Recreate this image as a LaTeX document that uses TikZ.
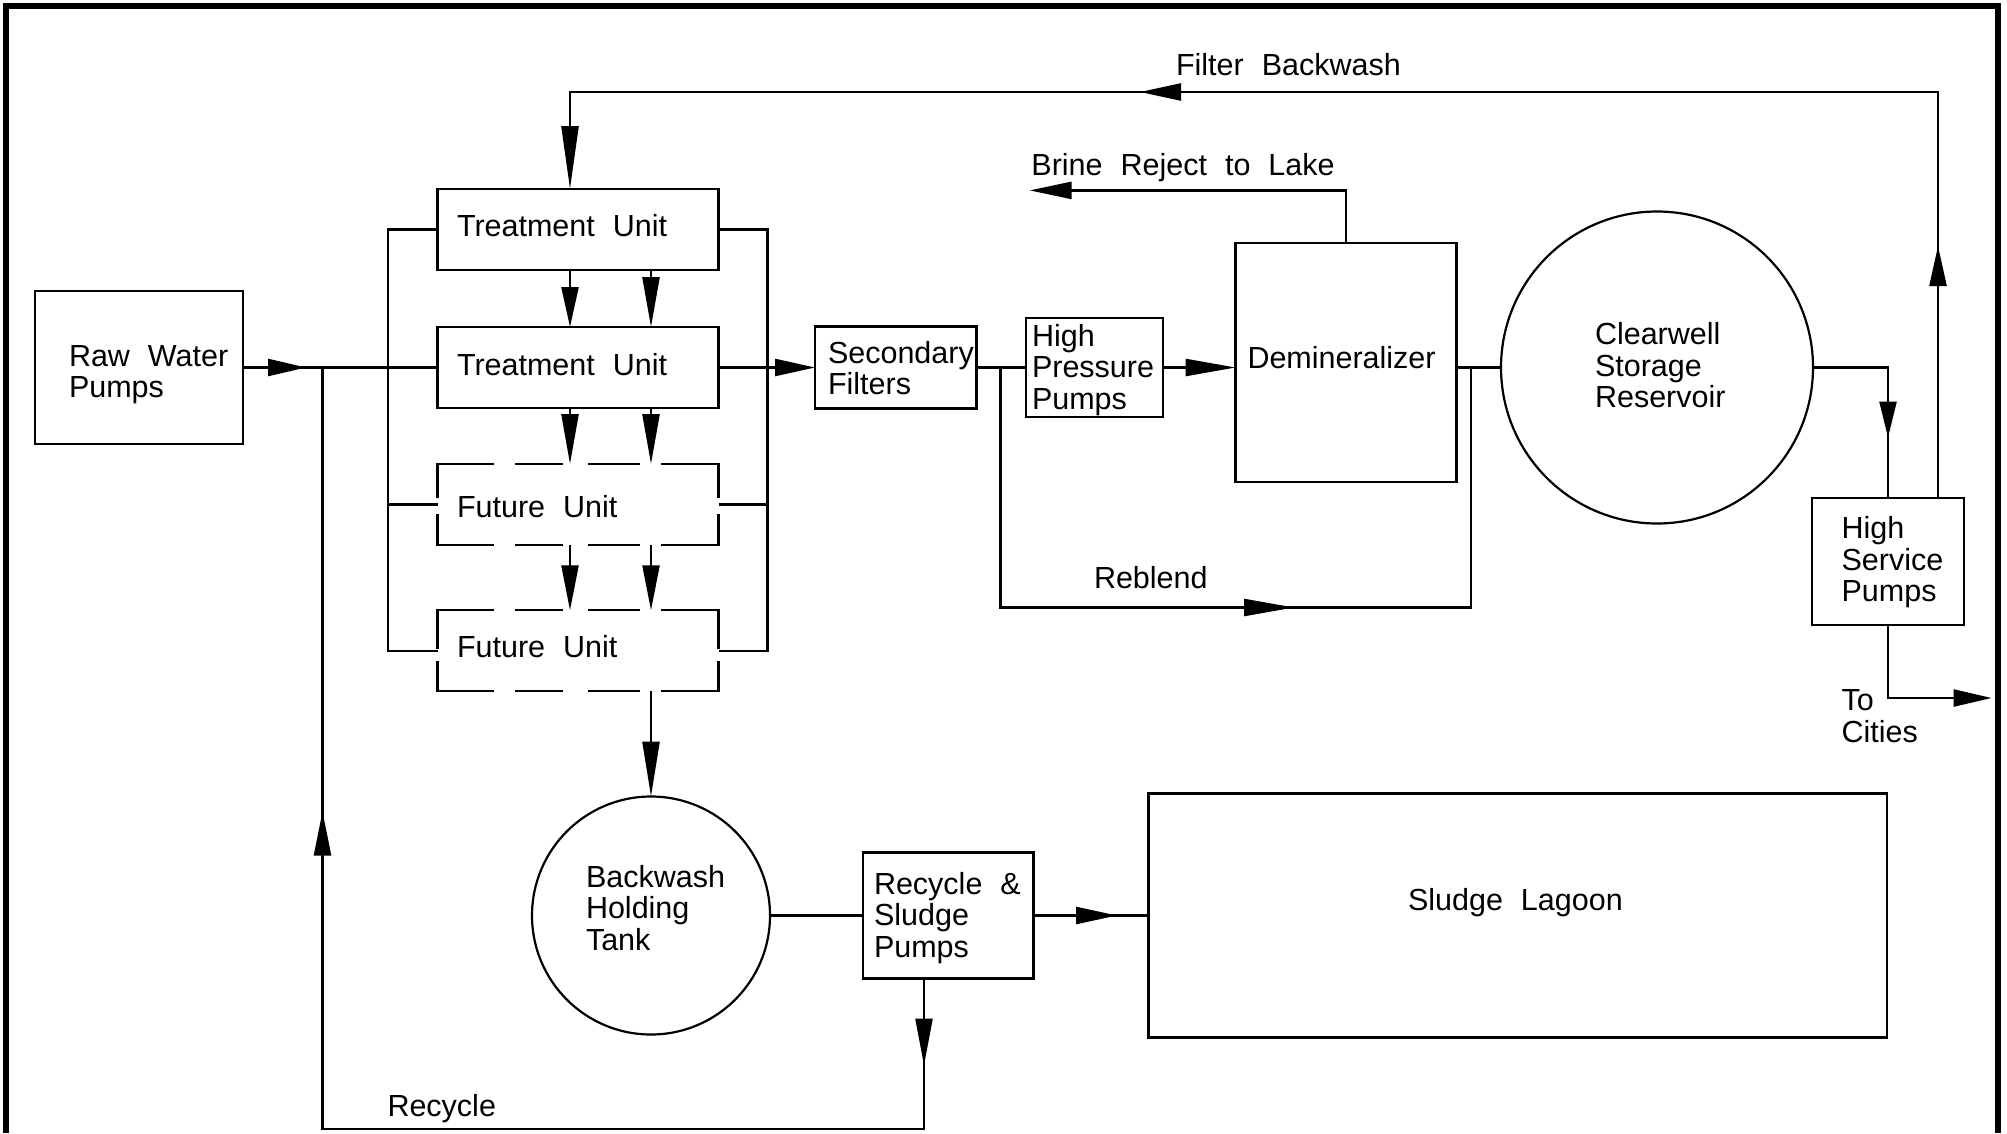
\documentclass[tikz,border=0pt]{standalone}
\usepackage{fontspec}
\setmainfont{Liberation Sans}
\usetikzlibrary{arrows.meta,decorations.markings}
\newcommand{\lblfont}{\fontsize{30.5}{31.5}\selectfont\spaceskip=18pt plus 3pt minus 3pt\relax}
\newcommand{\mlines}[1]{\parbox[t]{300pt}{#1}}
\tikzset{
  every node/.style={inner sep=0pt, outer sep=0pt},
  ln/.style={line width=2.4pt, line join=miter},
  box/.style={draw, rectangle, line width=2.4pt},
  tank/.style={draw, circle, line width=2.2pt},
  fubox/.style={rectangle, minimum width=281pt, minimum height=81pt},
  unitbox/.style={box, minimum width=281pt, minimum height=81pt},
  lbl/.style={anchor=base west, font=\lblfont},
  endarr/.style={-{Triangle[length=#1,width=17pt]}},
  midarr/.style 2 args={postaction={decorate,decoration={markings,mark=at position #1 with {\arrow{Triangle[length=#2,width=17pt]}}}}},
  dashedge/.style={line width=2.4pt, line cap=rect},
  hdash/.style={dashedge, dash pattern=on 55.5pt off 23pt on 46pt off 27pt on 50pt off 23pt on 70pt off 10pt},
}
\begin{document}
\begin{tikzpicture}[x=1pt,y=-1pt]
\useasboundingbox (0,0) rectangle (2007,1133);
\fill[white] (0,0) rectangle (2007,1133);
% frame
\draw[line width=6pt, line join=miter] (5.5,1133) -- (5.5,6) -- (1997.5,6) -- (1997.5,1133);

% boxes
\node[box, minimum width=208pt, minimum height=153pt] (RWP) at (139,367.5) {};
\node[unitbox] (TU1) at (578,229.5) {};
\node[unitbox] (TU2) at (578,367.5) {};
\node[fubox] (FU1) at (578,504.5) {};
\node[fubox] (FU2) at (578,650.75) {};
\node[box, minimum width=161.4pt, minimum height=82.3pt] (SF) at (895.7,367.5) {};
\node[box, minimum width=137pt, minimum height=99pt] (HPP) at (1094.5,367.5) {};
\node[box, minimum width=220.7pt, minimum height=239pt] (DEM) at (1346,362.5) {};
\node[tank, minimum size=312pt] (CW) at (1657,367.5) {};
\node[box, minimum width=152pt, minimum height=127pt] (HSP) at (1888,561.5) {};
\node[tank, minimum size=238pt] (BHT) at (651,915.5) {};
\node[box, minimum width=170.6pt, minimum height=126pt] (RSP) at (948.3,915.5) {};
\node[box, minimum width=738.4pt, minimum height=244pt] (SL) at (1517.8,915.5) {};

% dashed future units
\draw[hdash] (FU1.north west) -- (FU1.north east);
\draw[hdash] (FU1.south west) -- (FU1.south east);
\draw[dashedge, dash pattern=on 33pt off 18pt on 40pt off 10pt] (FU1.north west) -- (FU1.south west);
\draw[dashedge, dash pattern=on 33pt off 18pt on 40pt off 10pt] (FU1.north east) -- (FU1.south east);
\draw[hdash] (FU2.north west) -- (FU2.north east);
\draw[hdash] (FU2.south west) -- (FU2.south east);
\draw[dashedge, dash pattern=on 38pt off 14pt on 40pt off 10pt] (FU2.north west) -- (FU2.south west);
\draw[dashedge, dash pattern=on 38pt off 14pt on 40pt off 10pt] (FU2.north east) -- (FU2.south east);

% labels
\node[lbl] (tRWP) at (69,366) {\mlines{Raw Water\\Pumps}};
\node[lbl] (tTU1) at (457,236) {Treatment Unit};
\node[lbl] (tTU2) at (457,375.7) {Treatment Unit};
\node[lbl] (tFU1) at (457,517) {Future Unit};
\node[lbl] (tFU2) at (457,657.6) {Future Unit};
\node[lbl] (tSF) at (828,363) {\mlines{Secondary\\Filters}};
\node[lbl] (tHPP) at (1032,346.4) {\mlines{High\\Pressure\\Pumps}};
\node[lbl] (tDEM) at (1247.5,368) {Demineralizer};
\node[lbl] (tCW) at (1595,344.6) {\mlines{Clearwell\\Storage\\Reservoir}};
\node[lbl] (tHSP) at (1841.6,538.6) {\mlines{High\\Service\\Pumps}};
\node[lbl] (tCities) at (1841.6,710.5) {\mlines{To\\Cities}};
\node[lbl] (tFB) at (1176,75) {Filter Backwash};
\node[lbl] (tBrine) at (1031.4,175) {Brine Reject to Lake};
\node[lbl] (tReblend) at (1094,588) {Reblend};
\node[lbl] (tBHT) at (586,887) {\mlines{Backwash\\Holding\\Tank}};
\node[lbl] (tRSP) at (874,894) {\mlines{Recycle \&\\Sludge\\Pumps}};
\node[lbl] (tSL) at (1408,910.5) {Sludge Lagoon};
\node[lbl] (tRecycle) at (387.5,1116) {Recycle};

% helper coordinates
\coordinate (rj) at (322.5,367.5);
\coordinate (rbot) at (322.5,1129);
\coordinate (rbl) at (1000.5,367.5);
\coordinate (rbr) at (1470.7,367.5);
\coordinate (brineEnd) at (1029.6,190.4);
\coordinate (fbl) at (570,92);
\coordinate (hspfb) at ([xshift=50pt]HSP.north);
\coordinate (cities) at (1991.6,698);

% connectors
\draw[ln, midarr={63pt}{38pt}] (RWP.east) -- (TU2.west);
\draw[ln, midarr={87pt}{47pt}, midarr={-444pt}{44pt}] ([xshift=-24.3pt]RSP.south) |- (rbot) -- (rj);
\draw[ln] (TU1.west) -- ++(-49.5,0) |- (FU2.west);
\draw[ln] (FU1.west) -- ++(-49.5,0);
\draw[ln] (TU1.east) -- ++(49,0) |- (FU2.east);
\draw[ln] (FU1.east) -- ++(49,0);
\draw[ln, endarr=40pt] (TU2.east) -- (SF.west);

\draw[ln, endarr=40pt] ([xshift=-8pt]TU1.south) -- ([xshift=-8pt]TU2.north);
\draw[ln, endarr=50pt] ([xshift=73pt]TU1.south) -- ([xshift=73pt]TU2.north);
\draw[ln, endarr=50pt] ([xshift=-8pt]TU2.south) -- ([xshift=-8pt]FU1.north);
\draw[ln, endarr=50pt] ([xshift=73pt]TU2.south) -- ([xshift=73pt]FU1.north);
\draw[ln, endarr=45pt] ([xshift=-8pt]FU1.south) -- ([xshift=-8pt]FU2.north);
\draw[ln, endarr=45pt] ([xshift=73pt]FU1.south) -- ([xshift=73pt]FU2.north);
\draw[ln, endarr=55pt] ([xshift=73pt]FU2.south) -- (BHT.north);

\draw[ln] (SF.east) -- (HPP.west);
\draw[ln, midarr={533.5pt}{50pt}] (rbl) -- ++(0,240) -| (rbr);
\draw[ln, endarr=50pt] (HPP.east) -- (HPP.east -| DEM.west);
\draw[ln] (DEM.east |- CW.west) -- (CW.west);
\draw[ln, endarr=42pt] (DEM.north) |- (brineEnd);
\draw[ln, midarr={145pt}{36pt}] (CW.east) -| (HSP.north);
\draw[ln, midarr={252pt}{40pt}, midarr={1204pt}{41pt}, endarr=63pt] (hspfb) |- (fbl) -- ([xshift=-8pt]TU1.north);
\draw[ln, endarr=38pt] (HSP.south) |- (cities);
\draw[ln] (BHT.east) -- (RSP.west);
\draw[ln, midarr={83.4pt}{41pt}] (RSP.east) -- (SL.west);
\end{tikzpicture}
\end{document}
